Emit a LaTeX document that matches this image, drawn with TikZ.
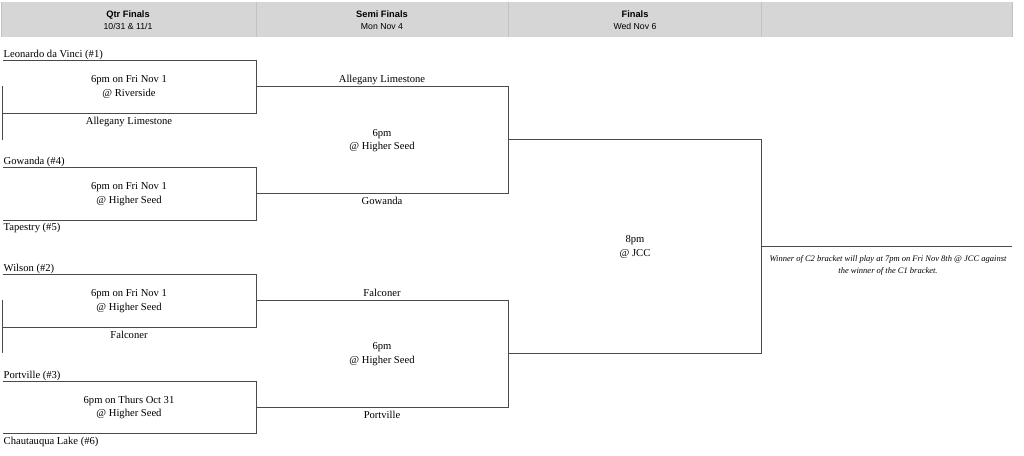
\documentclass[tikz,border=0pt]{standalone}
\usepackage{fontspec}
\setmainfont{Liberation Serif}
\newfontfamily\hdrfont{Liberation Sans}
\definecolor{hdrgray}{HTML}{D6D6D6}
\definecolor{sepgray}{HTML}{C2C2C2}
\definecolor{linegray}{HTML}{4A4A4A}
\begin{document}
\begin{tikzpicture}[x=1pt,y=-1pt,
  bline/.style={draw=linegray, line width=0.9pt},
  sepline/.style={draw=sepgray, line width=0.8pt},
  team/.style={font=\fontsize{10.6}{12}\selectfont, inner sep=0pt, anchor=base},
  teamw/.style={font=\fontsize{10.6}{12}\selectfont, inner sep=0pt, anchor=base west},
  info/.style={font=\fontsize{10.6}{13.5}\selectfont, inner sep=0pt, align=center, anchor=center},
  hdr/.style={font=\hdrfont, inner sep=0pt, align=center, anchor=center},
  note/.style={font=\itshape\fontsize{8.5}{12}\selectfont, inner sep=0pt, align=center, anchor=north}]
\useasboundingbox (0,0) rectangle (1024,455);
% header
\fill[hdrgray] (1,2) rectangle (1012,37);
\foreach \xx in {1,256,508,761,1012} \draw[sepline] (\xx,2) -- (\xx,37);
\node[hdr] (h1) at (128,20) {{\bfseries\fontsize{9.3}{10}\selectfont Qtr Finals}\\[-0.5pt]{\fontsize{8.7}{10}\selectfont 10/31 \& 11/1}};
\node[hdr] (h2) at (382,20) {{\bfseries\fontsize{9.3}{10}\selectfont Semi Finals}\\[-0.5pt]{\fontsize{8.7}{10}\selectfont Mon Nov 4}};
\node[hdr] (h3) at (635,20) {{\bfseries\fontsize{9.3}{10}\selectfont Finals}\\[-0.5pt]{\fontsize{8.7}{10}\selectfont Wed Nov 6}};
% coordinates
\coordinate (q1a) at (3,60);   \coordinate (q1b) at (256,60);
\coordinate (q1c) at (256,113);\coordinate (q1d) at (2,113);
\coordinate (q1u) at (2,86);   \coordinate (q1l) at (2,140);
\coordinate (q2a) at (3,167);  \coordinate (q2b) at (256,167);
\coordinate (q2c) at (256,220);\coordinate (q2d) at (3,220);
\coordinate (q3a) at (3,274);  \coordinate (q3b) at (256,274);
\coordinate (q3c) at (256,327);\coordinate (q3d) at (2,327);
\coordinate (q3u) at (2,300);  \coordinate (q3l) at (2,353);
\coordinate (q4a) at (3,381);  \coordinate (q4b) at (256,381);
\coordinate (q4c) at (256,433);\coordinate (q4d) at (3,433);
\coordinate (s1a) at (256,86); \coordinate (s1b) at (508,86);
\coordinate (s1c) at (508,193);\coordinate (s1d) at (256,193);
\coordinate (s2a) at (256,300);\coordinate (s2b) at (508,300);
\coordinate (s2c) at (508,407);\coordinate (s2d) at (256,407);
\coordinate (fa) at (508,139); \coordinate (fb) at (761,139);
\coordinate (fc) at (761,353); \coordinate (fd) at (508,353);
\coordinate (wa) at (761,246); \coordinate (wb) at (1012,246);
% bracket lines
\draw[bline] (q1a) -- (q1b) -- (q1c) -- (q1d);
\draw[bline] (q1u) -- (q1l);
\draw[bline] (q2a) -- (q2b) -- (q2c) -- (q2d);
\draw[bline] (q3a) -- (q3b) -- (q3c) -- (q3d);
\draw[bline] (q3u) -- (q3l);
\draw[bline] (q4a) -- (q4b) -- (q4c) -- (q4d);
\draw[bline] (s1a) -- (s1b) -- (s1c) -- (s1d);
\draw[bline] (s2a) -- (s2b) -- (s2c) -- (s2d);
\draw[bline] (fa) -- (fb) -- (fc) -- (fd);
\draw[bline] (wa) -- (wb);
% quarter final texts
\node[teamw] (t1) at (3.5,57) {Leonardo da Vinci (\#1)};
\node[info] (m1) at (129,87) {6pm on Fri Nov 1\\@ Riverside};
\node[team] (t1w) at (129,124) {Allegany Limestone};
\node[teamw] (t4) at (3.5,164) {Gowanda (\#4)};
\node[info] (m2) at (129,194) {6pm on Fri Nov 1\\@ Higher Seed};
\node[teamw] (t5) at (3.5,230.5) {Tapestry (\#5)};
\node[teamw] (t2) at (3.5,271) {Wilson (\#2)};
\node[info] (m3) at (129,301) {6pm on Fri Nov 1\\@ Higher Seed};
\node[team] (t3w) at (129,338) {Falconer};
\node[teamw] (t3) at (3.5,378) {Portville (\#3)};
\node[info] (m4) at (129,407.5) {6pm on Thurs Oct 31\\@ Higher Seed};
\node[teamw] (t6) at (3.5,444) {Chautauqua Lake (\#6)};
% semi final texts
\node[team] (s1t) at (382,82.5) {Allegany Limestone};
\node[info] (sm1) at (382,140.5) {6pm\\@ Higher Seed};
\node[team] (s1w) at (382,204) {Gowanda};
\node[team] (s2t) at (382,296.5) {Falconer};
\node[info] (sm2) at (382,354) {6pm\\@ Higher Seed};
\node[team] (s2w) at (382,418) {Portville};
% finals
\node[info] (fm) at (635,247) {8pm\\@ JCC};
\node[note] (nt) at (888,255.5) {Winner of C2 bracket will play at 7pm on Fri Nov 8th @ JCC against\\the winner of the C1 bracket.};
\end{tikzpicture}
\end{document}
